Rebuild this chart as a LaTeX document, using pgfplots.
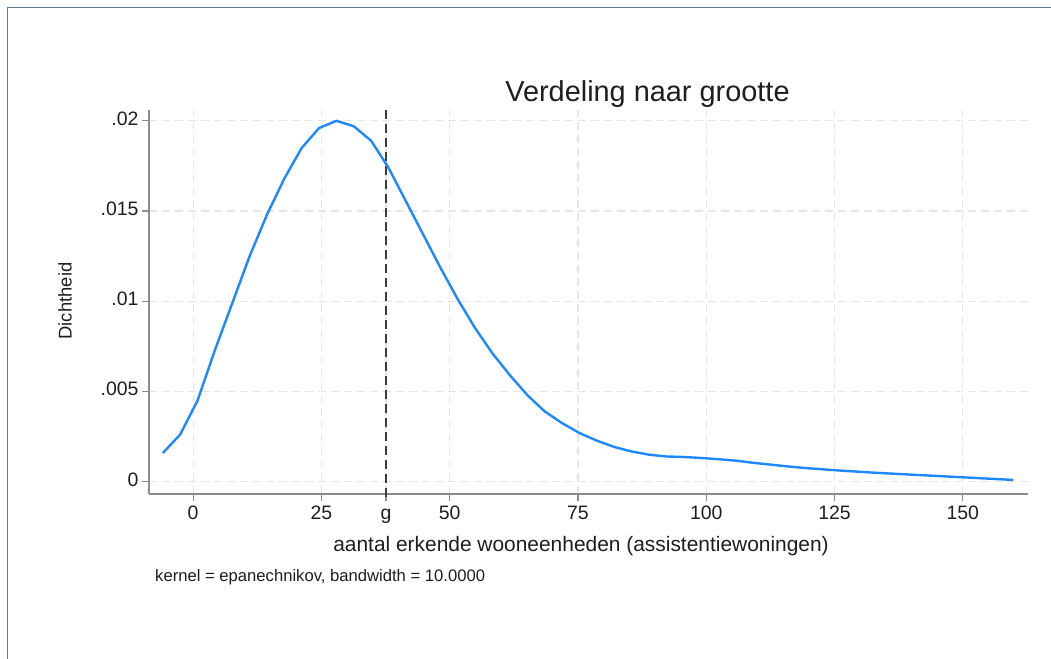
\documentclass[border=0pt]{standalone}
\usepackage{pgfplots}
\pgfplotsset{compat=1.18}
\usepackage{fontspec}
\setmainfont{Liberation Sans}
\definecolor{kblue}{RGB}{30,136,255}
\definecolor{axgray}{RGB}{140,140,140}
\definecolor{gridgray}{RGB}{230,230,230}
\definecolor{txt}{RGB}{30,30,30}
\definecolor{gline}{RGB}{60,60,60}
\definecolor{framec}{RGB}{95,125,145}
\pgfplotstableread{
x y
-5.90 0.00159
-2.52 0.00262
0.86 0.00450
4.25 0.00730
7.63 0.00990
11.01 0.01250
14.39 0.01480
17.77 0.01680
21.16 0.01850
24.54 0.01960
27.92 0.02000
31.30 0.01970
34.68 0.01890
38.07 0.01740
41.45 0.01555
44.83 0.01370
48.21 0.01185
51.59 0.01010
54.98 0.00850
58.36 0.00710
61.74 0.00590
65.12 0.00480
68.50 0.00390
71.89 0.00325
75.27 0.00270
78.65 0.00228
82.03 0.00193
85.41 0.00168
88.80 0.00150
92.18 0.00140
95.56 0.00137
98.94 0.00132
102.32 0.00125
105.71 0.00117
109.09 0.00105
112.47 0.00095
115.85 0.00085
119.23 0.00076
122.62 0.00069
126.00 0.00062
129.38 0.00056
132.76 0.00050
136.14 0.00045
139.53 0.00040
142.91 0.00035
146.29 0.00030
149.67 0.00025
153.05 0.00020
156.44 0.00015
159.82 0.00010
}\densdata
\begin{document}
\begin{tikzpicture}[x=1bp,y=1bp]
\path[use as bounding box] (0,0) rectangle (1051,-659);
\draw[framec, line width=1.5bp] (7.5,-659) -- (7.5,-7.5) -- (1051,-7.5);
\begin{axis}[
  at={(149bp,-494bp)}, anchor=south west,
  scale only axis, width=879bp, height=384bp,
  xmin=-8.6, xmax=162.7, ymin=-0.00068, ymax=0.0206,
  axis x line*=bottom, axis y line*=left,
  axis line style={axgray, line width=1.6bp, -},
  tick align=outside, major tick length=7bp,
  tick style={axgray, line width=1.2bp},
  xtick={0,25,37.6,50,75,100,125,150},
  xticklabels={0,25,g,50,75,100,125,150},
  ytick={0,0.005,0.01,0.015,0.02},
  yticklabels={0,.005,.01,.015,.02},
  scaled y ticks=false,
  typeset ticklabels with strut,
  grid=major,
  major grid style={gridgray, line width=1.2bp, dash pattern=on 8bp off 5bp},
  ticklabel style={font=\fontsize{19.5}{22}\selectfont, text=txt},
  /pgf/number format/assume math mode=true,
  xlabel={aantal erkende wooneenheden (assistentiewoningen)},
  xlabel style={font=\fontsize{21}{24}\selectfont, text=txt, at={(axis description cs:0.4915,-0.151)}, anchor=base},
  ylabel={Dichtheid},
  ylabel style={font=\fontsize{18.5}{22}\selectfont, text=txt, at={(axis description cs:-0.0956,0.5026)}, anchor=center, inner sep=0pt},
  clip=false,
]
\addplot[gline, line width=1.8bp, dash pattern=on 9bp off 5bp] coordinates {(37.6,0.0206) (37.6,-0.00105)};
\addplot[kblue, line width=2.4bp] table[x=x,y=y] {\densdata};
\end{axis}
\node[anchor=base, text=txt, font=\fontsize{29}{32}\selectfont] at (647.5,-101.7) {Verdeling naar grootte};
\node[anchor=base west, text=txt, font=\fontsize{16.7}{19}\selectfont, inner sep=0pt] at (155,-581.7) {kernel = epanechnikov, bandwidth = 10.0000};
\end{tikzpicture}
\end{document}
